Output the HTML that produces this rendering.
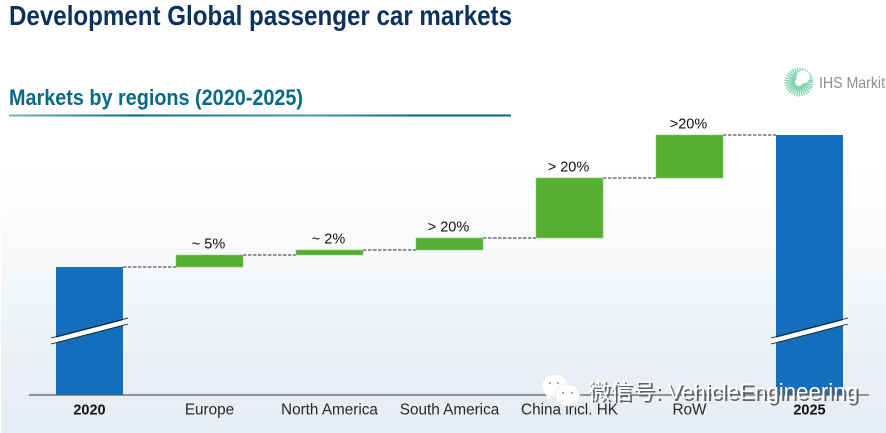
<!DOCTYPE html>
<html lang="en">
<head>
<meta charset="utf-8">
<title>Development Global passenger car markets</title>
<style>
html,body{margin:0;padding:0;background:#fff;}
#stage{position:relative;width:886px;height:433px;overflow:hidden;}
svg{display:block;}
text{font-family:"Liberation Sans","Noto Sans CJK SC",sans-serif;}
</style>
</head>
<body>
<div id="stage">
<svg id="chart" xmlns="http://www.w3.org/2000/svg" width="886" height="433" viewBox="0 0 886 433">
  <defs>
    <linearGradient id="bg" x1="0" y1="0" x2="0" y2="1">
      <stop offset="0" stop-color="#ffffff"/>
      <stop offset="0.36" stop-color="#ffffff"/>
      <stop offset="0.62" stop-color="#f6f8fa"/>
      <stop offset="0.85" stop-color="#e9eff4"/>
      <stop offset="1" stop-color="#e6edf3"/>
    </linearGradient>
    <linearGradient id="rule" x1="0" y1="0" x2="1" y2="0">
      <stop offset="0" stop-color="#7fb2c2"/>
      <stop offset="0.25" stop-color="#056a88"/>
      <stop offset="0.6" stop-color="#4f97ad"/>
      <stop offset="0.8" stop-color="#056a88"/>
      <stop offset="1" stop-color="#056a88"/>
    </linearGradient>
  </defs>
  <rect x="1" y="0" width="885" height="433" fill="url(#bg)"/>
  <text x="9" y="25" font-size="28" font-weight="700" fill="#0b315f" textLength="503" lengthAdjust="spacingAndGlyphs">Development Global passenger car markets</text>
  <text x="9" y="105" font-size="22" font-weight="700" fill="#056a88" textLength="294" lengthAdjust="spacingAndGlyphs">Markets by regions (2020-2025)</text>
  <rect x="9" y="114.5" width="502" height="2" fill="url(#rule)"/>
  <g id="logo">
    <g id="logo-rays" stroke="#85d2b3" stroke-width="1.4"></g>
    <circle cx="803" cy="77" r="6.5" fill="#ffffff"/>
    <text x="819" y="88" font-size="16" fill="#8d8f91" textLength="66" lengthAdjust="spacingAndGlyphs">IHS Markit</text>
  </g>
  <g id="connectors"></g>
  <g id="bars"></g>
  <g id="breaks"></g>
  <line x1="29" x2="869" y1="395" y2="395" stroke="#555b60" stroke-width="1.2"/>
  <g id="value-labels"></g>
  <g id="category-labels"></g>
  <g id="watermark">
    <g fill="#ffffff" stroke="#c9ced2" stroke-width="0.4">
      <ellipse cx="555" cy="386" rx="13.5" ry="12"/>
      <path d="M547 395 L546 401 L553 397 Z"/>
      <ellipse cx="567.5" cy="395" rx="12.5" ry="11"/>
      <path d="M572 404 L575 408 L575 402 Z"/>
      <circle cx="550" cy="383" r="1.1" fill="#9aa0a5" stroke="none"/>
      <circle cx="558" cy="383" r="1.1" fill="#9aa0a5" stroke="none"/>
      <circle cx="563" cy="393" r="1.1" fill="#9aa0a5" stroke="none"/>
      <circle cx="572" cy="393" r="1.1" fill="#9aa0a5" stroke="none"/>
    </g>
    <text x="589" y="400" font-size="22" fill="#5c6166" textLength="270" lengthAdjust="spacingAndGlyphs" transform="translate(1,1)">微信号: VehicleEngineering</text>
    <text x="588" y="399" font-size="22" fill="#ffffff" textLength="270" lengthAdjust="spacingAndGlyphs">微信号: VehicleEngineering</text>
  </g>
</svg>
</div>
<script>
// Chart data: market index values
const categories = ["2020", "Europe", "North America", "South America", "China incl. HK", "RoW", "2025"];
const barKinds = ["total", "delta", "delta", "delta", "delta", "delta", "total"];
const seriesValues = [128, 12, 5, 12, 60, 43, 260];
const valueLabels = ["", "~ 5%", "~ 2%", "> 20%", "> 20%", ">20%", ""];

// Axis functions
const SVG_NS = "http://www.w3.org/2000/svg";
const chartLeft = 29, slotWidth = 120, barWidth = 67, firstBarOffset = 27, baselineY = 395, pxPerUnit = 1;
function xScale(i) { return chartLeft + firstBarOffset + i * slotWidth; }
function yScale(v) { return baselineY - v * pxPerUnit; }
function make(tag, attrs, parent) {
  const el = document.createElementNS(SVG_NS, tag);
  for (const k in attrs) el.setAttribute(k, attrs[k]);
  parent.appendChild(el);
  return el;
}

const barsG = document.getElementById("bars");
const connG = document.getElementById("connectors");
const breaksG = document.getElementById("breaks");
const valG = document.getElementById("value-labels");
const catG = document.getElementById("category-labels");

let running = 0;
categories.forEach(function (cat, i) {
  const isTotal = barKinds[i] === "total";
  const start = isTotal ? 0 : running;
  const end = isTotal ? seriesValues[i] : running + seriesValues[i];
  const x = xScale(i), top = yScale(end), bottom = yScale(start);

  const bar = make("rect", { x: x, y: top, width: barWidth, height: bottom - top,
    fill: isTotal ? "#136fbb" : "#54ae32",
    stroke: isTotal ? "none" : "#8ccb78", "stroke-width": isTotal ? 0 : 0.6 }, barsG);
  
  

  if (i < categories.length - 1) {
    const conn = make("line", { x1: x + barWidth, x2: xScale(i + 1), y1: top, y2: top,
      stroke: "#55595d", "stroke-width": 1.2, "stroke-dasharray": "3.5 1.5" }, connG);
    
    
  }

  if (isTotal) {
    const brk = make("polygon", {
      points: (x - 5) + ",339 " + (x + barWidth + 5) + ",319 " + (x + barWidth + 5) + ",324 " + (x - 5) + ",344",
      fill: "#ffffff" }, breaksG);
    
    
    [[338, 318], [344, 324]].forEach(function (p) {
      const edge = make("line", { x1: x - 5, y1: p[0], x2: x + barWidth + 5, y2: p[1],
        stroke: "#111111", "stroke-width": 0.9 }, breaksG);
      
      
    });
  }

  if (valueLabels[i]) {
    const vl = make("text", { x: x + barWidth / 2 - 1, y: top - 6.5, "text-anchor": "middle",
      "font-size": 14.5, fill: "#111111" }, valG);
    vl.textContent = valueLabels[i];
    
    
  }

  const cl = make("text", { x: x + barWidth / 2, y: 414.5, "text-anchor": "middle",
    "font-size": isTotal ? 14.5 : 15.3, "font-weight": isTotal ? 700 : 400, fill: isTotal ? "#111111" : "#26292c" }, catG);
  cl.textContent = cat;
  
  

  running = end;
});

// Decorative logo sunburst
const rays = document.getElementById("logo-rays");
for (let a = 0; a < 360; a += 11) {
  const r = a * Math.PI / 180;
  const ray = make("line", {
    x1: 799 + 4 * Math.cos(r), y1: 82 + 4 * Math.sin(r),
    x2: 799 + 14.5 * Math.cos(r), y2: 82 + 14.5 * Math.sin(r) }, rays);
  
  
}
</script>
</body>
</html>
